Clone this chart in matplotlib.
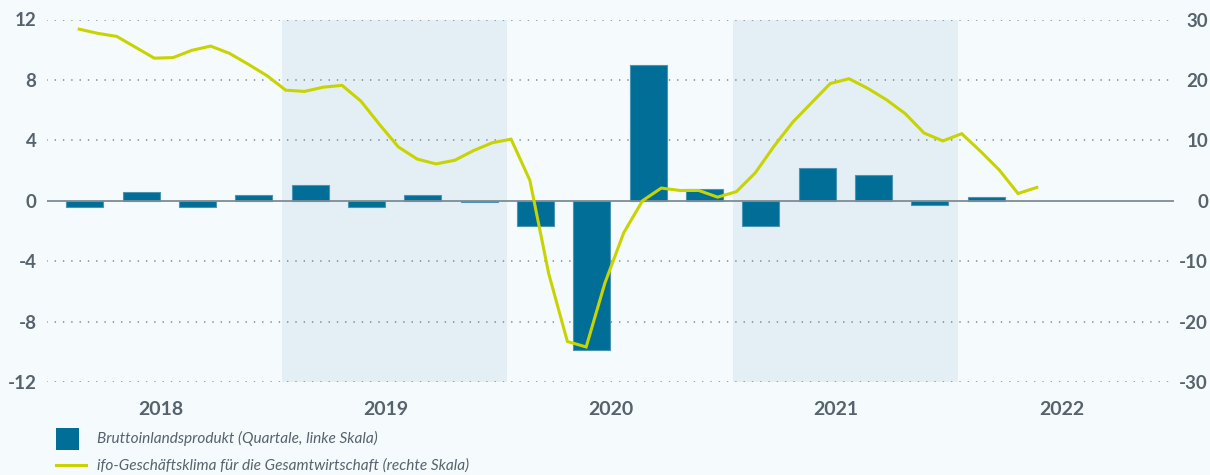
import numpy as np
import matplotlib
matplotlib.use("Agg")
import matplotlib.pyplot as plt
from matplotlib.patches import Rectangle
from matplotlib.lines import Line2D

# === Daten ===
jahre = [2018, 2019, 2020, 2021, 2022]
schattiert = [2019, 2021]

# BIP, Veraenderung gg. Vorquartal in % (linke Skala)
bip_jahr = [2018] * 4 + [2019] * 4 + [2020] * 4 + [2021] * 4 + [2022]
bip_quartal = [1, 2, 3, 4] * 4 + [1]
bip = [-0.4, 0.6, -0.4, 0.4, 1.05, -0.4, 0.4, -0.05,
       -1.7, -9.9, 9.0, 0.8, -1.7, 2.2, 1.7, -0.3, 0.25]

# ifo-Geschaeftsklima Gesamtwirtschaft, Salden (rechte Skala), Jan 2018 - Apr 2022
ifo_jahr = [2018] * 12 + [2019] * 12 + [2020] * 12 + [2021] * 12 + [2022] * 4
ifo_monat = list(range(1, 13)) * 4 + [1, 2, 3, 4]
ifo = [28.4, 27.7, 27.2, 25.4, 23.6, 23.7, 24.9, 25.6, 24.4, 22.6, 20.7, 18.3,
       18.1, 18.8, 19.1, 16.5, 12.6, 8.9, 6.9, 6.1, 6.7, 8.3, 9.6, 10.2,
       3.4, -12.0, -23.3, -24.2, -13.6, -5.3, 0.0, 2.1, 1.7, 1.7, 0.6, 1.5,
       4.6, 9.0, 13.0, 16.2, 19.4, 20.2, 18.6, 16.7, 14.4, 11.2, 9.9, 11.1,
       8.2, 5.1, 1.2, 2.2]

links_ticks = [-12, -8, -4, 0, 4, 8, 12]
rechts_ticks = [-30, -20, -10, 0, 10, 20, 30]

legende_bip = "Bruttoinlandsprodukt (Quartale, linke Skala)"
legende_ifo = "ifo-Geschäftsklima für die Gesamtwirtschaft (rechte Skala)"

# === Stil ===
HINTERGRUND = "#f5fafd"
SCHATTEN = "#e4eef5"
BALKEN = "#006e96"
BALKEN_RAND = "#4d93b4"
LINIE = "#c8d400"
TEXT = "#56636c"
PUNKTE = "#75828b"
NULLLINIE = "#7d8c96"

plt.rcParams["font.family"] = ["Lato", "DejaVu Sans"]
plt.rcParams["axes.unicode_minus"] = False

W, H = 1210, 475
fig = plt.figure(figsize=(W / 100, H / 100), dpi=100, facecolor=HINTERGRUND)
ax = fig.add_axes([47 / W, 1 - 382 / H, (1174 - 47) / W, (382 - 19.5) / H])
ax.set_facecolor(HINTERGRUND)

x_bip = np.array(bip_jahr) + (np.array(bip_quartal) - 0.5) / 4
x_ifo = np.array(ifo_jahr) + (np.array(ifo_monat) + 0.2) / 12

for j in schattiert:
    ax.axvspan(j, j + 1, color=SCHATTEN, lw=0, zorder=0)

for t in links_ticks:
    if t == 0:
        continue
    ax.axhline(t, color=PUNKTE, lw=1.2, ls=(0, (0.01, 4.97)),
               dash_capstyle="round", zorder=1)

ax.bar(x_bip, bip, width=0.164, color=BALKEN, edgecolor=BALKEN_RAND,
       linewidth=0.8, zorder=2)
ax.axhline(0, color=NULLLINIE, lw=1.3, zorder=3)

ax.set_xlim(2017.957, 2022.959)
ax.set_ylim(-12, 12)
ax.set_yticks(links_ticks)
ax.set_yticklabels([str(t) for t in links_ticks])
ax.set_xticks([j + 0.46 for j in jahre])
ax.set_xticklabels([str(j) for j in jahre])

ax2 = ax.twinx()
ax2.set_ylim(-30, 30)
ax2.set_yticks(rechts_ticks)
ax2.set_yticklabels([str(t) for t in rechts_ticks])
ax2.plot(x_ifo, ifo, color=LINIE, lw=2.2, solid_joinstyle="miter", zorder=5)

for a in (ax, ax2):
    for s in a.spines.values():
        s.set_visible(False)
    a.tick_params(length=0, labelcolor=TEXT, labelsize=13.5)
    for lab in a.get_yticklabels() + a.get_xticklabels():
        lab.set_fontweight("bold")

ax.tick_params(axis="y", pad=7.5)
ax.tick_params(axis="x", pad=14, labelsize=14)
ax2.tick_params(axis="y", pad=24.5)
for lab in ax2.get_yticklabels():
    lab.set_horizontalalignment("right")

# Legende
fig.add_artist(Rectangle((56 / W, 1 - 449.5 / H), 23 / W, 22 / H,
                         transform=fig.transFigure, color=BALKEN, lw=0))
fig.add_artist(Line2D([56 / W, 86 / W], [1 - 465 / H, 1 - 465 / H],
                      transform=fig.transFigure, color=LINIE, lw=2.2))
fig.text(97 / W, 1 - 438.5 / H, legende_bip, color=TEXT, fontsize=11.1,
         style="italic", va="center", ha="left")
fig.text(97 / W, 1 - 465.5 / H, legende_ifo, color=TEXT, fontsize=11.1,
         style="italic", va="center", ha="left")

fig.savefig("out.png", dpi=100, facecolor=HINTERGRUND)
